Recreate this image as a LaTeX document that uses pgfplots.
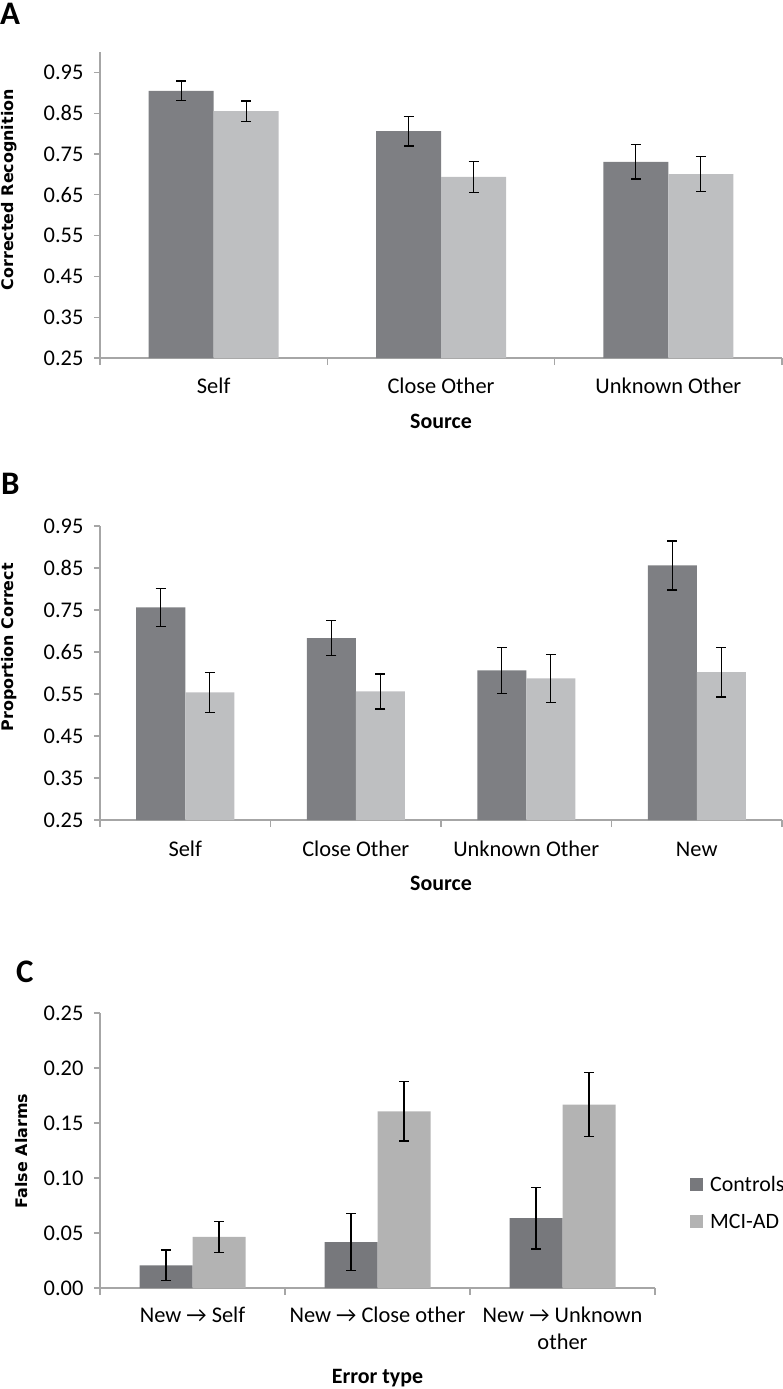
\documentclass[border=0pt]{standalone}
\usepackage{fontspec}
\setmainfont{Carlito}
\newfontfamily\ylabfont{DejaVu Sans}
\usepackage{pgfplots}
\pgfplotsset{compat=1.18}
\definecolor{darkbar}{HTML}{7E7F83}
\definecolor{lightbar}{HTML}{BEBFC1}
\definecolor{darkbarC}{HTML}{77787C}
\definecolor{lightbarC}{HTML}{B3B3B3}
\definecolor{axgray}{HTML}{A6A6A6}
\pgfplotsset{
  panel/.style={
    scale only axis,
    axis x line*=bottom, axis y line*=left,
    axis line style={axgray, line width=1.3bp},
    /pgf/number format/assume math mode=true,
    tick label style={font=\fontsize{22.5}{28}\selectfont},
    every tick/.append style={axgray, line width=1.3bp},
    every major x tick/.append style={draw=none},
    major tick length=6bp, minor tick length=7bp,
    tick align=outside,
    xtick=data,
    yticklabel style={xshift=-7bp, /pgf/number format/.cd, fixed, fixed zerofill, precision=2},
    ybar=0pt,
    xlabel style={font=\fontsize{22}{24}\selectfont\bfseries, at={(axis description cs:0.5,0)}, anchor=center},
    ylabel style={font=\fontsize{16}{18}\selectfont\ylabfont\bfseries, rotate=0, anchor=center},
    error bars/y dir=both, error bars/y explicit,
    error bars/error bar style={black, line width=1.3bp},
    error bars/error mark options={rotate=90, mark size=5bp, line width=1.3bp, black},
  }
}
\begin{document}
\begin{tikzpicture}
\useasboundingbox (0,0) rectangle (783bp,-1389bp);
% ---------------- Panel A
\node[anchor=north west, inner sep=0pt, font=\fontsize{33}{36}\selectfont\bfseries] at (0bp,-3bp) {A};
\begin{axis}[panel, at={(100bp,-358bp)}, anchor=south west,
  width=682bp, height=306bp,
  xmin=-0.5, xmax=2.5, ymin=0.25, ymax=1.0,
  ytick={0.25,0.35,0.45,0.55,0.65,0.75,0.85,0.95},
  xticklabels={Self, Close Other, Unknown Other},
  xticklabel style={anchor=base, yshift=-29bp},
  minor xtick={-0.5,0.5,1.5,2.5},
  bar width=65bp,
  xlabel={Source}, xlabel style={yshift=-63bp},
  ylabel={Corrected Recognition}, ylabel style={at={(axis description cs:-0.133,0.55)}},
]
\addplot[fill=darkbar, draw=none] coordinates {
  (0,0.905) +- (0,0.024)
  (1,0.806) +- (0,0.036)
  (2,0.731) +- (0,0.042)
};
\addplot[fill=lightbar, draw=none] coordinates {
  (0,0.855) +- (0,0.025)
  (1,0.694) +- (0,0.038)
  (2,0.701) +- (0,0.043)
};
\end{axis}
% ---------------- Panel B
\node[anchor=north west, inner sep=0pt, font=\fontsize{33}{36}\selectfont\bfseries] at (1bp,-473bp) {B};
\begin{axis}[panel, at={(100bp,-820bp)}, anchor=south west,
  width=682bp, height=294bp,
  xmin=-0.5, xmax=3.5, ymin=0.25, ymax=0.95,
  ytick={0.25,0.35,0.45,0.55,0.65,0.75,0.85,0.95},
  xticklabels={Self, Close Other, Unknown Other, New},
  xticklabel style={anchor=base, yshift=-30bp},
  minor xtick={-0.5,0.5,1.5,2.5,3.5},
  bar width=49bp,
  xlabel={Source}, xlabel style={yshift=-63bp},
  ylabel={Proportion Correct}, ylabel style={at={(axis description cs:-0.133,0.588)}},
]
\addplot[fill=darkbar, draw=none] coordinates {
  (0,0.756) +- (0,0.046)
  (1,0.683) +- (0,0.042)
  (2,0.606) +- (0,0.055)
  (3,0.856) +- (0,0.058)
};
\addplot[fill=lightbar, draw=none] coordinates {
  (0,0.554) +- (0,0.048)
  (1,0.556) +- (0,0.042)
  (2,0.587) +- (0,0.057)
  (3,0.602) +- (0,0.059)
};
\end{axis}
% ---------------- Panel C
\node[anchor=north west, inner sep=0pt, font=\fontsize{33}{36}\selectfont\bfseries] at (16bp,-961bp) {C};
\begin{axis}[panel, at={(100bp,-1288bp)}, anchor=south west,
  width=555bp, height=275bp,
  xmin=-0.5, xmax=2.5, ymin=0, ymax=0.25,
  ytick={0,0.05,0.10,0.15,0.20,0.25},
  xticklabels={New → Self, New → Close other, New → Unknown\\other},
  xticklabel style={anchor=north, yshift=-9bp, align=center, font=\fontsize{22.5}{28}\selectfont},
  minor xtick={-0.5,0.5,1.5,2.5},
  bar width=53bp,
  xlabel={Error type}, xlabel style={yshift=-90bp},
  ylabel={False Alarms}, ylabel style={at={(axis description cs:-0.142,0.498)}},
  legend style={at={(axis description cs:1.063,0.309)}, anchor=west, draw=none, fill=none,
    font=\fontsize{22}{24}\selectfont, row sep=17bp, inner sep=0pt,
    /tikz/every odd column/.append style={column sep=5bp}},
  legend cell align=left,
  legend image code/.code={\fill[#1] (0bp,-6.5bp) rectangle (13bp,6.5bp);},
]
\addplot[fill=darkbarC, draw=none] coordinates {
  (0,0.0206) +- (0,0.014)
  (1,0.0418) +- (0,0.026)
  (2,0.0636) +- (0,0.028)
};
\addlegendentry{Controls}
\addplot[fill=lightbarC, draw=none] coordinates {
  (0,0.0464) +- (0,0.014)
  (1,0.1606) +- (0,0.027)
  (2,0.1667) +- (0,0.029)
};
\addlegendentry{MCI-AD}
\end{axis}
\end{tikzpicture}
\end{document}
